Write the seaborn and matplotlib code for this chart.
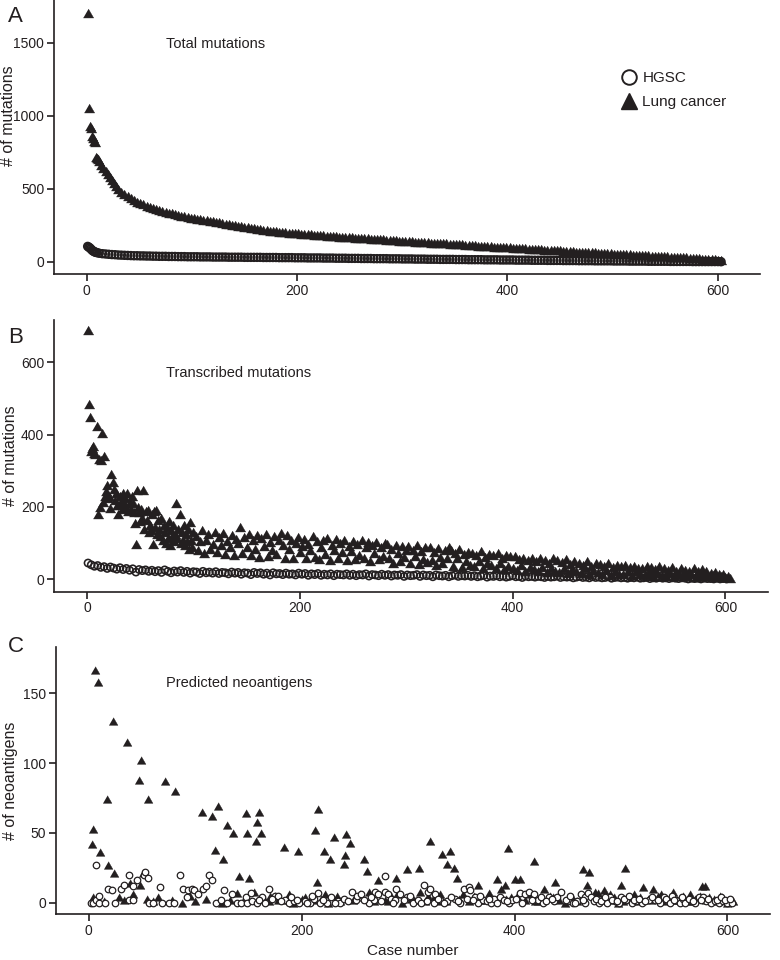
import matplotlib
matplotlib.use("Agg")
import matplotlib.pyplot as plt
from matplotlib.lines import Line2D
import seaborn as sns

# ---------------- Panel A: total mutations (cases ranked by total) ----------------
A_LUNG_CASE = [1, 2, 3, 4, 5, 6, 7, 8, 9, 10, 11, 12, 14, 16, 18, 20, 22, 24, 26, 28] + \
    list(range(30, 604, 3))
A_LUNG = [1700, 1050, 930, 915, 860, 850, 830, 820, 720, 710, 700, 690, 660, 640, 620, 600, 580, 560, 540, 520,
          500, 480, 462, 447, 433, 422, 411, 400, 392, 383,
          375, 368, 361, 355, 348, 342, 337, 332, 327, 321,
          316, 311, 306, 300, 297, 293, 290, 286, 283, 280,
          277, 273, 269, 265, 261, 257, 253, 250, 246, 243,
          239, 235, 232, 228, 225, 222, 219, 216, 213, 211,
          208, 206, 204, 202, 200, 198, 196, 194, 193, 191,
          189, 187, 185, 183, 182, 180, 179, 177, 176, 174,
          172, 171, 170, 168, 167, 165, 164, 163, 161, 160,
          158, 157, 155, 154, 153, 151, 150, 148, 147, 145,
          144, 143, 141, 140, 138, 137, 136, 134, 133, 131,
          130, 129, 127, 126, 125, 123, 122, 120, 119, 118,
          117, 115, 114, 112, 111, 110, 108, 107, 106, 104,
          103, 102, 100, 99, 98, 96, 95, 94, 92, 91,
          90, 89, 87, 86, 85, 83, 82, 81, 79, 78,
          77, 76, 74, 73, 72, 70, 69, 68, 67, 65,
          65, 64, 62, 61, 60, 58, 57, 56, 55, 53,
          53, 51, 50, 49, 48, 46, 45, 44, 43, 41,
          41, 40, 38, 37, 36, 34, 33, 32, 31, 29,
          29, 28, 26, 25, 24, 22, 21, 20, 18, 17,
          14, 10]

A_HGSC_CASE = [1, 2, 3, 4, 5, 6, 7, 8, 9, 10] + list(range(12, 604, 3))
A_HGSC = [105, 100, 95, 88, 80, 74, 70, 66, 64, 62,
          58, 55, 53, 51, 49, 48, 46, 45, 44, 43,
          42, 41, 41, 40, 40, 39, 39, 38, 38, 37,
          37, 37, 36, 36, 36, 35, 35, 35, 34, 34,
          34, 34, 33, 33, 33, 33, 32, 32, 32, 32,
          32, 31, 31, 31, 31, 31, 30, 30, 30, 30,
          30, 30, 29, 29, 29, 29, 29, 28, 28, 28,
          28, 28, 27, 27, 27, 27, 26, 26, 26, 26,
          26, 25, 25, 25, 25, 24, 24, 24, 24, 23,
          23, 23, 23, 22, 22, 22, 22, 21, 21, 21,
          21, 21, 20, 20, 20, 20, 19, 19, 19, 19,
          18, 18, 18, 18, 17, 17, 17, 17, 16, 16,
          16, 16, 16, 15, 15, 15, 15, 14, 14, 14,
          14, 14, 13, 13, 13, 13, 13, 12, 12, 12,
          12, 12, 11, 11, 11, 11, 11, 10, 10, 10,
          10, 10, 9, 9, 9, 9, 9, 8, 8, 8,
          8, 8, 7, 7, 7, 7, 7, 6, 6, 6,
          6, 6, 6, 5, 5, 5, 5, 5, 4, 4,
          4, 4, 4, 4, 3, 3, 3, 3, 3, 3,
          3, 2, 2, 2, 2, 2, 2, 2, 1, 1,
          1, 1, 1, 1, 1, 1, 1, 0]

# ---------------- Panel B: transcribed mutations ----------------
B_LUNG_CASE = list(range(1, 101)) + list(range(102, 605, 2))
B_LUNG = [688, 485, 450, 356, 362, 369, 350, 346, 424, 180,
          332, 200, 330, 404, 213, 340, 230, 245, 260, 225,
          230, 197, 291, 270, 250, 220, 240, 205, 180, 205,
          230, 215, 195, 240, 210, 225, 200, 238, 190, 215,
          195, 230, 210, 185, 155, 98, 247, 200, 185, 160,
          195, 170, 247, 140, 190, 165, 192, 130, 150, 135,
          180, 98, 190, 145, 192, 125, 165, 140, 120, 170,
          110, 150, 130, 100, 145, 115, 160, 95, 135, 120,
          150, 105, 125, 210, 115, 140, 180, 100, 130, 110,
          150, 95, 125, 105, 140, 85, 159, 110, 90, 130,
          # from case 102, every second case
          120, 80, 105, 135, 72, 110, 125, 85, 98, 130,
          75, 118, 95, 128, 70, 105, 88, 122, 68, 112,
          100, 145, 72, 118, 90, 126, 66, 108, 84, 122,
          62, 115, 92, 125, 64, 104, 80, 120, 70, 110,
          128, 95, 60, 122, 85, 110, 58, 100, 118, 75,
          92, 112, 58, 98, 80, 120, 62, 105, 56, 88,
          108, 70, 115, 54, 95, 82, 112, 60, 100, 75,
          110, 52, 92, 78, 105, 56, 98, 66, 108, 60,
          88, 102, 50, 95, 72, 104, 55, 90, 64, 100,
          98, 58, 85, 46, 96, 72, 50, 92, 62, 80,
          92, 44, 82, 65, 96, 42, 78, 55, 88, 48,
          90, 52, 76, 40, 86, 62, 45, 80, 58, 88,
          80, 38, 72, 58, 84, 35, 70, 50, 76, 40,
          74, 36, 66, 50, 78, 32, 62, 45, 70, 40,
          68, 30, 72, 45, 60, 28, 66, 38, 64, 30,
          64, 26, 55, 40, 60, 24, 52, 35, 58, 28,
          50, 22, 58, 34, 54, 20, 46, 30, 60, 24,
          54, 20, 48, 32, 56, 18, 42, 28, 50, 22,
          44, 18, 40, 30, 50, 16, 38, 26, 46, 20,
          42, 15, 38, 26, 46, 13, 34, 22, 40, 16,
          36, 14, 40, 24, 34, 12, 38, 22, 30, 14,
          32, 12, 36, 20, 34, 10, 28, 18, 38, 12,
          30, 10, 26, 18, 34, 8, 24, 14, 32, 10,
          26, 10, 24, 16, 30, 7, 22, 14, 28, 8,
          22, 8, 18, 12, 20, 6, 16, 10, 14, 5,
          8, 3]

B_HGSC_CASE = list(range(1, 602, 3))
B_HGSC = [45, 40, 36, 38, 33, 35, 30, 34, 31, 28,
          32, 27, 30, 25, 29, 20, 27, 24, 26, 22,
          25, 21, 24, 19, 26, 22, 18, 23, 20, 24,
          19, 22, 17, 21, 20, 16, 22, 18, 20, 17,
          21, 16, 19, 18, 15, 20, 17, 19, 14, 18,
          17, 13, 19, 16, 18, 14, 17, 12, 18, 15,
          16, 13, 17, 14, 15, 12, 17, 14, 16, 11,
          15, 13, 16, 11, 14, 12, 15, 10, 14, 13,
          12, 15, 11, 14, 10, 13, 12, 15, 9, 13,
          12, 10, 14, 11, 13, 9, 12, 11, 13, 8,
          12, 10, 11, 13, 8, 12, 10, 11, 7, 12,
          10, 9, 11, 7, 10, 12, 8, 10, 9, 11,
          8, 10, 7, 9, 11, 6, 9, 8, 10, 7,
          9, 6, 8, 10, 7, 8, 5, 9, 7, 8,
          6, 8, 7, 5, 8, 6, 7, 9, 5, 7,
          6, 7, 4, 6, 8, 5, 6, 4, 7, 5,
          6, 4, 5, 7, 3, 5, 6, 4, 5, 3,
          5, 4, 6, 3, 4, 5, 2, 4, 3, 5,
          3, 4, 2, 4, 3, 2, 4, 3, 1, 3,
          2, 3, 1, 3, 2, 2, 1, 3, 1, 2,
          1]

# ---------------- Panel C: predicted neoantigens ----------------
C_LUNG_CASE = [3, 4, 6, 9, 11, 17, 18, 23, 24, 36, 47, 49, 51, 56, 72, 81, 106, 116, 119, 121,
               126, 130, 136, 141, 148, 149, 151, 157, 158, 160, 162, 183, 197, 213, 214, 215, 221, 227, 230, 240,
               241, 242, 245, 259, 261, 272, 289, 299, 310, 321, 332, 337, 339, 343, 346, 366, 384, 391, 394, 400,
               405, 418, 428, 438, 464, 468, 470, 500, 504, 521, 530, 549, 576, 579, 593,
               4, 8, 14, 28, 33, 39, 42, 48, 55, 60, 65, 78, 88, 95, 100, 110, 125, 133, 139, 145,
               155, 165, 169, 175, 185, 192, 200, 207, 218, 225, 233, 248, 255, 263, 268, 278, 284, 294, 303, 311,
               316, 324, 330, 336, 348, 357, 362, 371, 376, 380, 387, 397, 410, 414, 422, 426, 433, 442, 447, 454,
               459, 476, 478, 484, 488, 493, 497, 508, 512, 516, 525, 535, 540, 545, 553, 558, 562, 565, 570, 583,
               587, 591, 597, 600, 605,
               170, 178, 188, 195, 203, 212, 222, 236, 251, 266, 281, 290, 306, 319, 327, 352, 368, 392, 402, 419,
               436, 450, 462, 490, 502, 518, 528, 538, 548, 556, 568, 574, 580, 595, 603]
C_LUNG = [42, 53, 167, 158, 36, 74, 27, 130, 21, 115, 88, 102, 21, 74, 87, 80, 65, 62, 38, 69,
          31, 56, 50, 19, 64, 50, 18, 44, 58, 65, 50, 40, 37, 52, 15, 67, 37, 31, 47, 28,
          34, 49, 43, 31, 23, 16, 18, 24, 25, 44, 35, 28, 37, 25, 18, 13, 17, 13, 39, 17,
          17, 30, 10, 15, 24, 13, 22, 13, 25, 11, 10, 8, 12, 12, 5,
          4, 2, 1, 4, 2, 14, 6, 13, 3, 1, 4, 2, 0, 5, 1, 3, 0, 2, 7, 1,
          8, 3, 1, 5, 2, 0, 3, 1, 3, 0, 5, 2, 6, 8, 1, 2, 5, 0, 3, 8,
          1, 4, 6, 1, 3, 1, 5, 2, 7, 3, 10, 4, 2, 6, 1, 3, 5, 2, 0, 4,
          1, 8, 7, 9, 2, 4, 0, 3, 6, 1, 3, 5, 1, 3, 2, 5, 1, 6, 3, 4,
          3, 1, 2, 0, 1,
          5, 2, 6, 1, 4, 2, 6, 1, 4, 3, 1, 6, 2, 5, 1, 6, 2, 3, 5, 1,
          4, 2, 3, 6, 1, 4, 2, 6, 2, 3, 1, 5, 2, 4, 2]

C_HGSC_CASE = [2, 4, 7, 7, 10, 10, 15, 18, 22, 25, 30, 33, 38, 38, 42, 42, 45, 52, 53, 56,
               57, 60, 67, 69, 75, 80, 86, 89, 92, 93, 97, 99, 103, 107, 110, 113, 116, 120, 124, 127,
               130, 135, 139, 143, 148, 149, 152, 153, 158, 163, 169, 175, 178, 184, 188, 193, 198, 203, 208, 212,
               215, 217, 224, 228, 234, 236, 247, 251, 252, 256, 263, 268, 269, 272, 278, 278, 281, 284, 288, 289,
               292, 299, 305, 309, 312, 315, 319, 321, 324, 325, 330, 337, 344, 349, 353, 355, 357, 358, 363, 366,
               370, 374, 378, 381, 386, 390, 395, 398, 405, 410, 414, 418, 422, 427, 432, 437, 440, 444, 450, 455,
               459, 462, 466, 466, 469, 472, 475, 479, 483, 487, 490, 494, 498, 500, 505, 510, 514, 520, 526, 532,
               537, 540, 544, 548, 552, 555, 558, 562, 566, 570, 573, 577, 580, 585, 588, 592, 596, 600, 604,
               160, 166, 172, 181, 190, 196, 205, 210, 220, 231, 240, 244, 259, 265, 275, 286, 296, 302, 318, 328,
               334, 340, 347, 361, 368, 376, 384, 393, 401, 407, 416, 425, 430, 435, 448, 452, 457, 464, 477, 481,
               485, 492, 496, 503, 508, 512, 517, 523, 529, 535, 542, 546, 550, 557, 560, 564, 568, 575, 582, 590,
               594, 598, 602]
C_HGSC = [0, 0, 2, 27, 5, 0, 0, 10, 9, 0, 10, 13, 20, 2, 12, 2, 16, 20, 22, 18,
          0, 0, 11, 0, 0, 0, 20, 10, 4, 9, 10, 9, 6, 10, 12, 20, 16, 0, 2, 9,
          0, 6, 0, 0, 4, 0, 7, 1, 0, 4, 10, 5, 5, 2, 0, 1, 0, 1, 0, 3,
          7, 0, 0, 4, 1, 0, 8, 2, 5, 6, 0, 2, 8, 6, 19, 8, 6, 3, 2, 10,
          6, 4, 0, 2, 0, 13, 8, 10, 0, 6, 2, 1, 3, 0, 10, 3, 11, 9, 4, 0,
          2, 1, 0, 3, 4, 2, 0, 2, 7, 6, 8, 6, 2, 0, 4, 1, 4, 8, 1, 0,
          1, 6, 4, 0, 7, 4, 1, 0, 2, 0, 4, 1, 0, 4, 2, 0, 1, 0, 2, 2,
          0, 4, 1, 5, 2, 0, 3, 1, 2, 0, 4, 4, 1, 0, 1, 0, 1, 0, 0,
          2, 0, 3, 1, 4, 2, 0, 5, 2, 0, 3, 1, 2, 4, 1, 0, 2, 5, 1, 3,
          0, 4, 1, 2, 5, 3, 0, 1, 3, 0, 2, 4, 1, 3, 2, 5, 0, 2, 3, 1,
          4, 2, 1, 3, 5, 2, 3, 1, 4, 2, 3, 0, 2, 4, 0, 3, 1, 2, 3, 2,
          4, 2, 3]

DARK = "#231f20"
TRI = [(-1, -0.866), (1, -0.866), (0, 0.866)]

sns.set_theme(style="ticks")
plt.rcParams["font.family"] = ["Liberation Sans", "DejaVu Sans"]
plt.rcParams["text.color"] = DARK
plt.rcParams["axes.labelcolor"] = DARK

fig = plt.figure(figsize=(7.8, 9.6), dpi=100)

W, H = 780.0, 960.0


def add_panel(left, right, top, bottom):
    return fig.add_axes([left / W, 1 - bottom / H, (right - left) / W, (bottom - top) / H])


def style_axis(ax, ylim, yticks, ylabel, label_x, label_y=0.5):
    sns.despine(ax=ax)
    ax.set_xlim(-31, 640)
    ax.set_ylim(*ylim)
    ax.set_xticks([0, 200, 400, 600])
    ax.set_yticks(yticks)
    for side in ("left", "bottom"):
        ax.spines[side].set_linewidth(1.2)
        ax.spines[side].set_color(DARK)
    ax.tick_params(direction="out", length=5, width=1.2, pad=2, labelsize=10,
                   colors=DARK)
    ax.set_ylabel(ylabel, fontsize=11.5)
    ax.yaxis.set_label_coords(label_x, label_y)
    ax.set_xlabel("")
    ax.grid(False)


def draw(ax, lc, lv, hc, hv, tri_s, circ_s, circ_lw, hgsc_face="none", hgsc_top=False):
    tri_kw = dict(marker=TRI, s=tri_s, color=DARK, edgecolor=DARK, linewidth=0.3, ax=ax)
    circ_kw = dict(marker="o", s=circ_s, color=DARK, facecolor=hgsc_face, edgecolor=DARK,
                   linewidth=circ_lw, ax=ax)
    if hgsc_top:
        sns.scatterplot(x=lc, y=lv, zorder=2, **tri_kw)
        sns.scatterplot(x=hc, y=hv, zorder=3, **circ_kw)
    else:
        sns.scatterplot(x=hc, y=hv, zorder=2, **circ_kw)
        sns.scatterplot(x=lc, y=lv, zorder=3, **tri_kw)


# Panel A
axA = add_panel(54, 760, 0, 274)
draw(axA, A_LUNG_CASE, A_LUNG, A_HGSC_CASE, A_HGSC, tri_s=55, circ_s=30, circ_lw=1.3)
style_axis(axA, (-84, 1792), [0, 500, 1000, 1500], "# of mutations", -0.054, 0.577)
handles = [Line2D([], [], ls="", marker="o", markersize=10.5, markerfacecolor="none",
                  markeredgecolor=DARK, markeredgewidth=1.4),
           Line2D([], [], ls="", marker="^", markersize=11.5, markerfacecolor=DARK,
                  markeredgecolor=DARK)]
fig.legend(handles, ["HGSC", "Lung cancer"], loc="center left",
           bbox_to_anchor=(621 / W, 1 - 90 / H), frameon=False, fontsize=11,
           handlelength=1.0, handletextpad=0.4, labelspacing=0.65, borderpad=0,
           borderaxespad=0)

# Panel B
axB = add_panel(54, 768, 320, 591.7)
draw(axB, B_LUNG_CASE, B_LUNG, B_HGSC_CASE, B_HGSC, tri_s=55, circ_s=27, circ_lw=1.15)
style_axis(axB, (-34.3, 717), [0, 200, 400, 600], "# of mutations", -0.05)

# Panel C
axC = add_panel(55.7, 770, 646.7, 914.3)
draw(axC, C_LUNG_CASE, C_LUNG, C_HGSC_CASE, C_HGSC, tri_s=40, circ_s=22, circ_lw=0.9,
     hgsc_face="white", hgsc_top=True)
style_axis(axC, (-8.3, 183.4), [0, 50, 100, 150], "# of neoantigens", -0.053)
axC.set_xlabel("Case number", fontsize=11, labelpad=4)

# panel letters and in-panel titles
for letter, base in (("A", 22), ("B", 343), ("C", 652)):
    fig.text(8 / W, 1 - base / H, letter, fontsize=16, va="baseline", ha="left")
for title, base in (("Total mutations", 48.3), ("Transcribed mutations", 377.3),
                    ("Predicted neoantigens", 686.7)):
    fig.text(166.5 / W, 1 - base / H, title, fontsize=10.5, va="baseline", ha="left")

fig.savefig("out.png", dpi=100)
plt.close(fig)
